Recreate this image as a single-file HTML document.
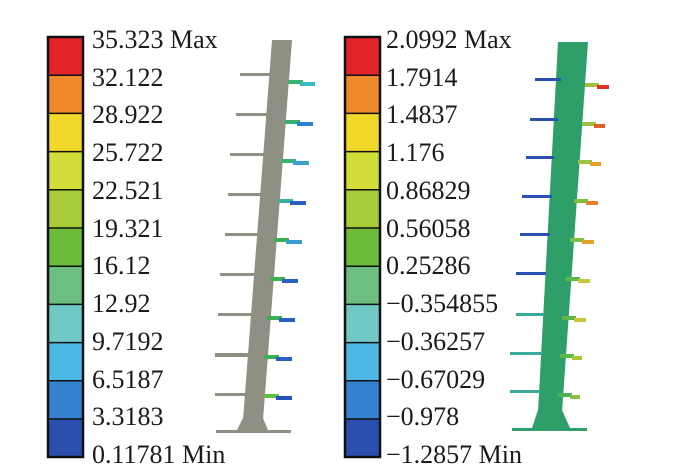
<!DOCTYPE html>
<html><head><style>body{margin:0;background:#fff}svg{display:block}text{font-family:"Liberation Serif",serif;font-size:26px;fill:#1a1a1a}</style></head><body>
<svg width="685" height="472" viewBox="0 0 685 472">
<defs>
<g id="cb">
<rect x="0" y="0" width="35" height="38.2" fill="#e3232a"/>
<rect x="0" y="38.2" width="35" height="38.2" fill="#ee8a2a"/>
<rect x="0" y="76.4" width="35" height="38.2" fill="#f2d82a"/>
<rect x="0" y="114.6" width="35" height="38.2" fill="#d2dc3a"/>
<rect x="0" y="152.8" width="35" height="38.2" fill="#a8cc38"/>
<rect x="0" y="191" width="35" height="38.2" fill="#6cbb3a"/>
<rect x="0" y="229.2" width="35" height="38.2" fill="#6cbf80"/>
<rect x="0" y="267.4" width="35" height="38.2" fill="#70c8c4"/>
<rect x="0" y="305.6" width="35" height="38.2" fill="#4cb8e4"/>
<rect x="0" y="343.8" width="35" height="38.2" fill="#3680d0"/>
<rect x="0" y="382" width="35" height="38" fill="#2a4fae"/>
<g stroke="#111" stroke-width="1.5"><line x1="0" y1="38.2" x2="35" y2="38.2"/><line x1="0" y1="76.4" x2="35" y2="76.4"/><line x1="0" y1="114.6" x2="35" y2="114.6"/><line x1="0" y1="152.8" x2="35" y2="152.8"/><line x1="0" y1="191" x2="35" y2="191"/><line x1="0" y1="229.2" x2="35" y2="229.2"/><line x1="0" y1="267.4" x2="35" y2="267.4"/><line x1="0" y1="305.6" x2="35" y2="305.6"/><line x1="0" y1="343.8" x2="35" y2="343.8"/><line x1="0" y1="382" x2="35" y2="382"/></g>
<rect x="0" y="0" width="35" height="420" fill="none" stroke="#111" stroke-width="2.5"/>
</g>
</defs>
<use href="#cb" x="48" y="37"/>
<use href="#cb" x="345" y="37"/>
<g>
<text x="92" y="48">35.323 Max</text><text x="92" y="86">32.122</text><text x="92" y="123">28.922</text><text x="92" y="161">25.722</text><text x="92" y="199">22.521</text><text x="92" y="237">19.321</text><text x="92" y="274">16.12</text><text x="92" y="312">12.92</text><text x="92" y="350">9.7192</text><text x="92" y="388">6.5187</text><text x="92" y="425">3.3183</text><text x="92" y="463">0.11781 Min</text>
<text x="386" y="48">2.0992 Max</text><text x="386" y="86">1.7914</text><text x="386" y="123">1.4837</text><text x="386" y="161">1.176</text><text x="386" y="199">0.86829</text><text x="386" y="237">0.56058</text><text x="386" y="274">0.25286</text><text x="386" y="312">−0.354855</text><text x="386" y="350">−0.36257</text><text x="386" y="388">−0.67029</text><text x="386" y="425">−0.978</text><text x="386" y="463">−1.2857 Min</text>
</g>
<!-- left tower -->
<g fill="#8f8f84">
<polygon points="272,40 292,40 263,420 243,420"/>
<polygon points="243,418 263,418 268,430 237,430"/>
<rect x="216" y="430" width="75" height="3"/>
</g>
<g>
<g fill="#8f8f84">
<rect x="240" y="73" width="30" height="3"/><rect x="236" y="113" width="33" height="3"/><rect x="230" y="153" width="36" height="3"/><rect x="228" y="193" width="35" height="3"/><rect x="225" y="233" width="36" height="3"/><rect x="220" y="273" width="38" height="3"/><rect x="218" y="313" width="36" height="3"/><rect x="215" y="353" width="37" height="4"/><rect x="215" y="393" width="35" height="3"/>
</g>
<g>
<rect x="288" y="80" width="15" height="4" fill="#3bb070"/><rect x="300" y="82" width="15" height="4" fill="#3ab8c8"/>
<rect x="285" y="120" width="15" height="4" fill="#3bb070"/><rect x="297" y="122" width="16" height="4" fill="#2a80d0"/>
<rect x="281" y="159" width="15" height="4" fill="#3bb070"/><rect x="293" y="161" width="16" height="4" fill="#3a9ed0"/>
<rect x="278" y="199" width="15" height="4" fill="#3bb0a0"/><rect x="290" y="201" width="16" height="4" fill="#2a60c0"/>
<rect x="274" y="238" width="15" height="4" fill="#3bb050"/><rect x="286" y="240" width="16" height="4" fill="#3a9ed0"/>
<rect x="270" y="277" width="15" height="4" fill="#3bb050"/><rect x="282" y="279" width="16" height="4" fill="#2a60c0"/>
<rect x="267" y="316" width="15" height="4" fill="#3bb050"/><rect x="279" y="318" width="16" height="4" fill="#2a60c0"/>
<rect x="264" y="355" width="15" height="4" fill="#3bb050"/><rect x="276" y="357" width="16" height="4" fill="#2a60c0"/>
<rect x="264" y="394" width="15" height="4" fill="#5cc040"/><rect x="276" y="396" width="16" height="4" fill="#2a50c0"/>
</g>
</g>
<!-- right tower -->
<g fill="#2f9f6a">
<polygon points="558,42 588,42 562,412 538,412"/>
<polygon points="538,410 562,410 570,428 532,428"/>
<rect x="512" y="428" width="75" height="3"/>
</g>
<g fill="#2a50b0">
<rect x="535" y="78" width="26" height="3"/><rect x="530" y="118" width="28" height="3"/><rect x="526" y="156" width="28" height="3"/><rect x="522" y="195" width="30" height="3"/><rect x="520" y="233" width="30" height="3"/><rect x="516" y="272" width="30" height="3"/>
</g>
<g fill="#3aaa9a">
<rect x="516" y="313" width="28" height="3"/><rect x="510" y="352" width="32" height="3"/><rect x="510" y="390" width="30" height="3"/>
</g>
<g>
<rect x="585" y="83" width="14" height="4" fill="#9cc040"/><rect x="597" y="85" width="12" height="4" fill="#e03028"/>
<rect x="582" y="122" width="14" height="4" fill="#9cc040"/><rect x="594" y="124" width="11" height="4" fill="#e06028"/>
<rect x="578" y="160" width="14" height="4" fill="#9cc040"/><rect x="590" y="162" width="11" height="4" fill="#e8a028"/>
<rect x="574" y="199" width="14" height="4" fill="#7cc040"/><rect x="586" y="201" width="12" height="4" fill="#e88028"/>
<rect x="570" y="238" width="14" height="4" fill="#7cc040"/><rect x="582" y="240" width="12" height="4" fill="#e8a028"/>
<rect x="566" y="277" width="14" height="4" fill="#5cb848"/><rect x="578" y="279" width="12" height="4" fill="#c8c838"/>
<rect x="562" y="316" width="14" height="4" fill="#5cb848"/><rect x="574" y="318" width="12" height="4" fill="#c8c838"/>
<rect x="560" y="354" width="14" height="4" fill="#5cb848"/><rect x="572" y="356" width="10" height="4" fill="#a8c838"/>
<rect x="558" y="393" width="14" height="4" fill="#4cb058"/><rect x="570" y="395" width="10" height="4" fill="#88c040"/>
</g>
</svg>
</body></html>
